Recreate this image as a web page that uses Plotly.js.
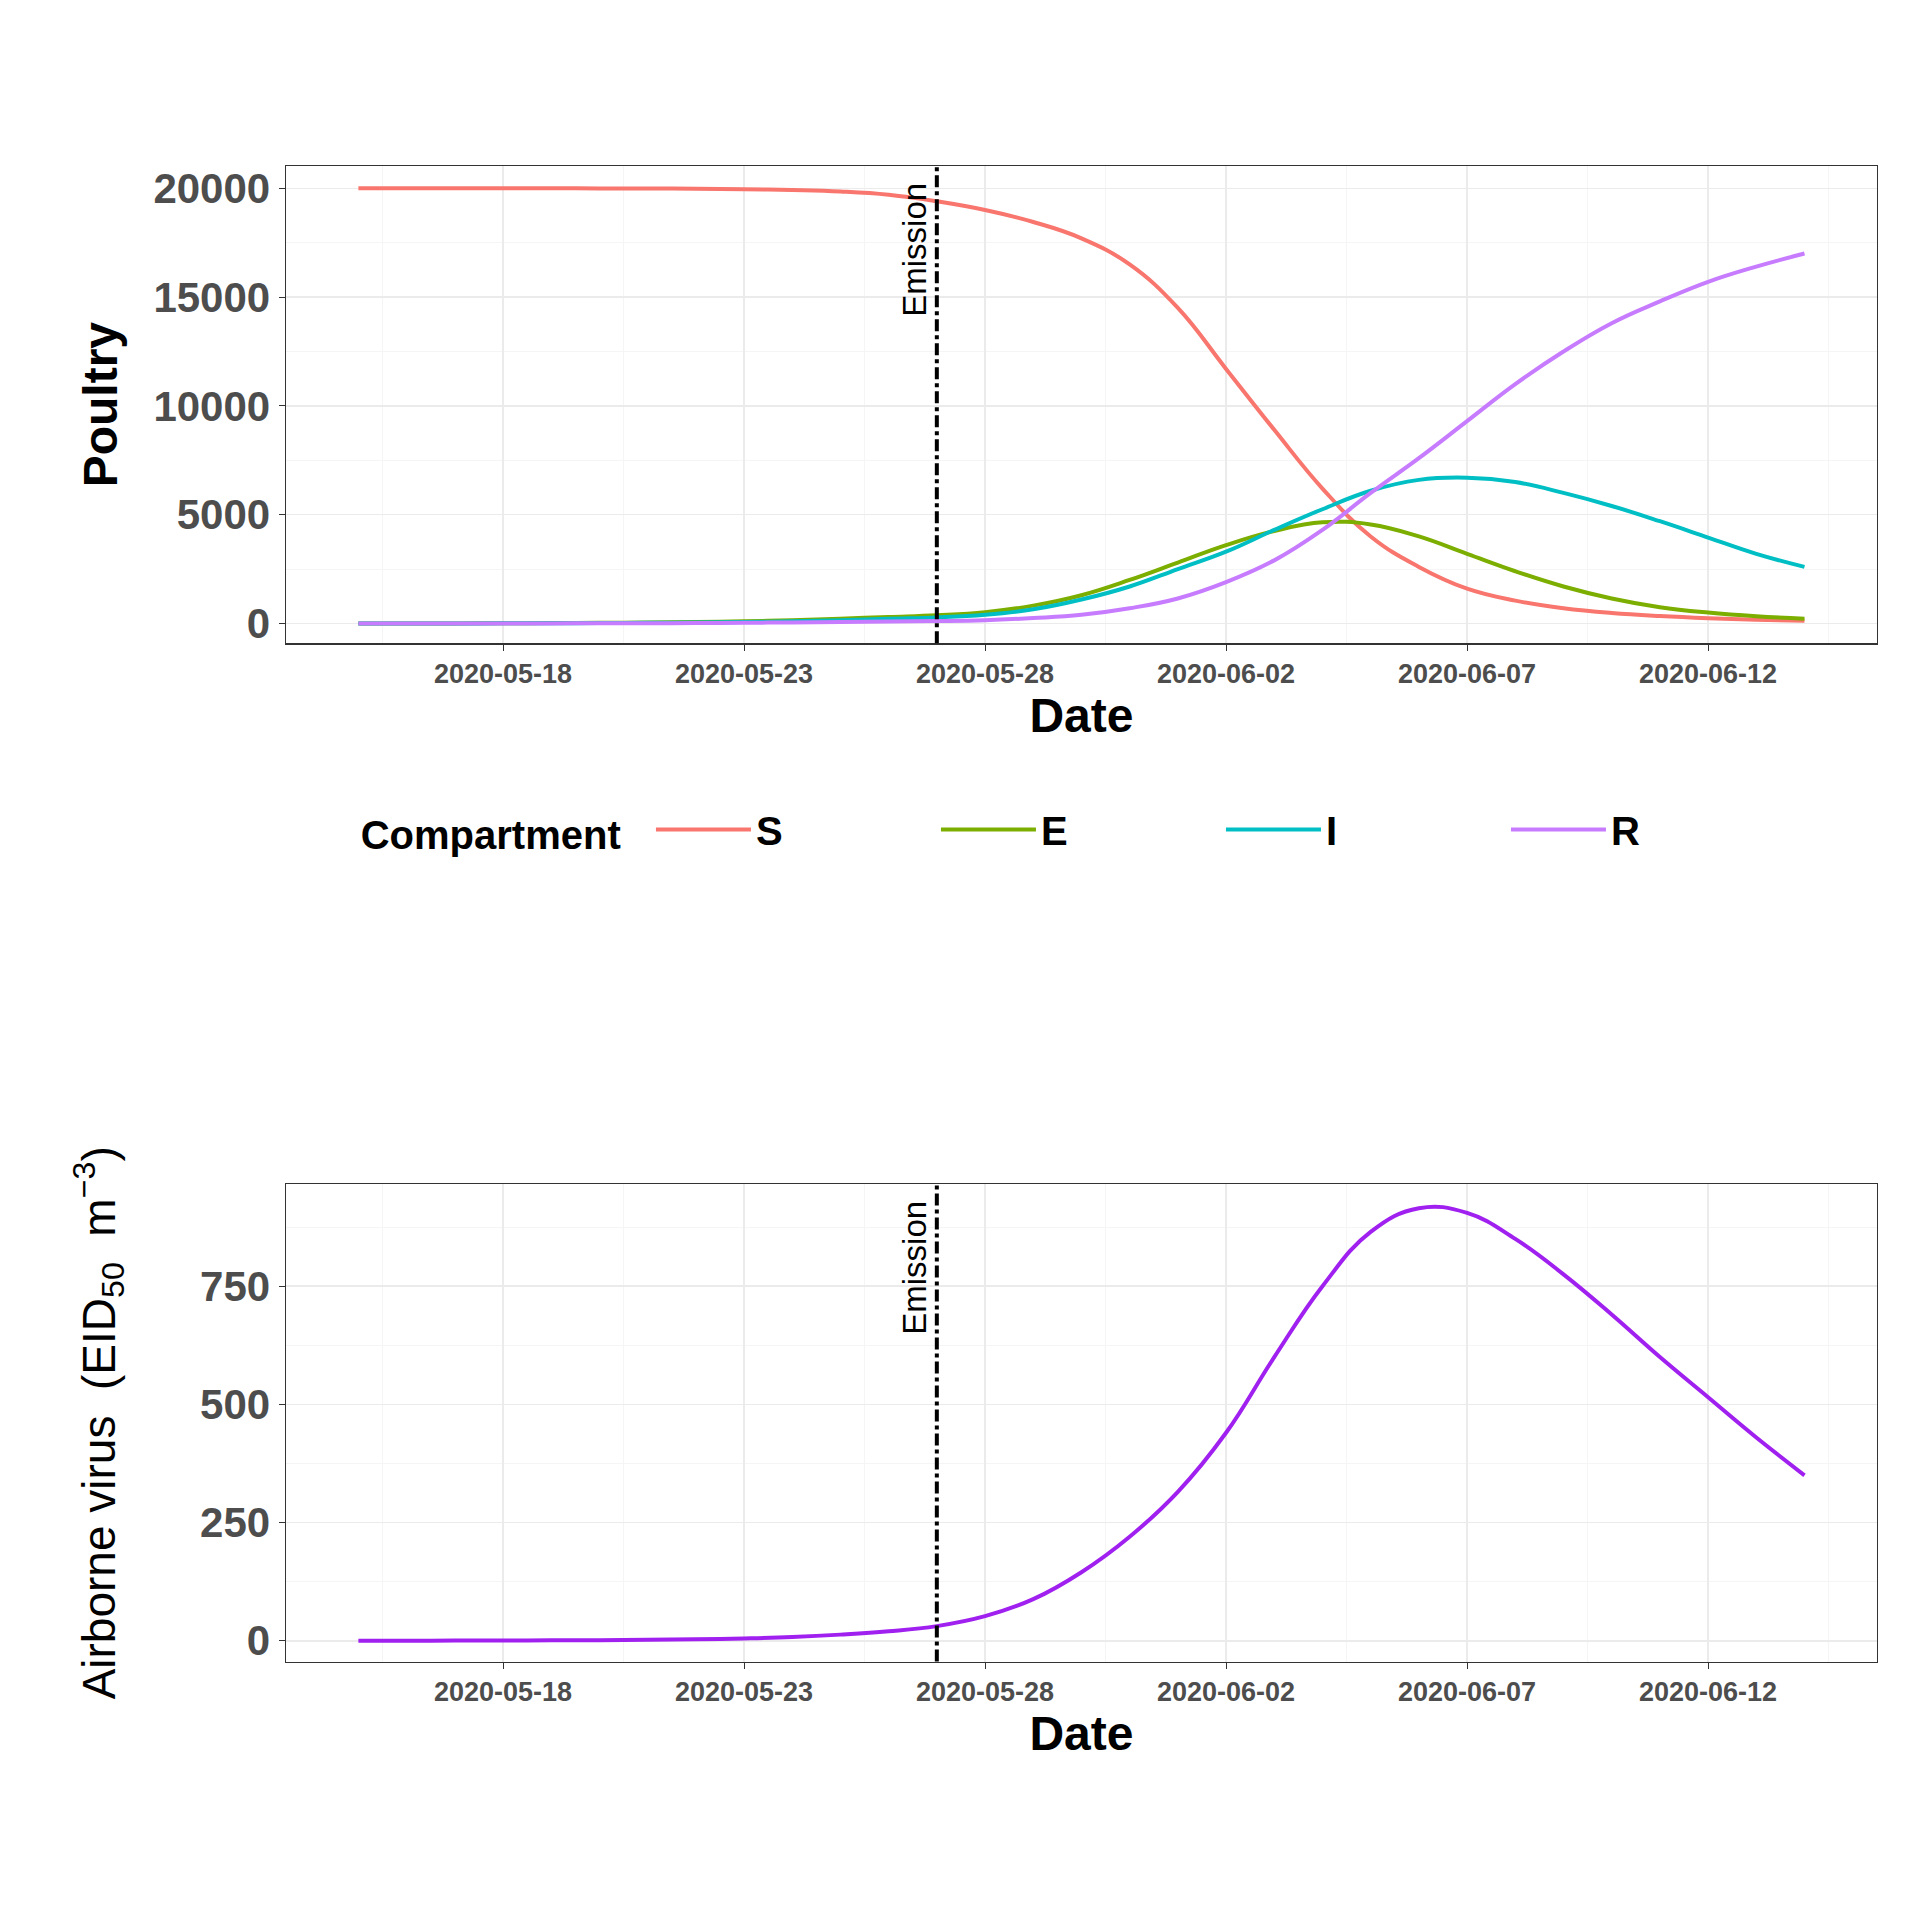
<!DOCTYPE html>
<html>
<head>
<meta charset="utf-8">
<script src="https://cdn.plot.ly/plotly-3.0.1.min.js"></script>
<style>body{margin:0;background:#fff}#chart{width:1920px;height:1920px}</style>
</head>
<body>
<div id="chart"></div>
<script>
var dates = []
for (i = 0; i < 31; i++) {
    var d = new Date(Date.UTC(2020, 4, 15 + i))
    dates.push(d.toISOString().slice(0, 10))
}
// 2020-05-15 .. 2020-06-14
var S = [20000,20000,20000,20000,20000,19995,19990,19980,19960,19920,19850,19700,19400,19000,18450,17700,16500,14500,11700,8900,6200,4000,2600,1600,1050,700,480,340,240,170,120]
var E = [0,2,5,10,18,30,45,70,100,150,220,300,380,520,820,1300,2000,2800,3600,4250,4650,4550,4000,3200,2400,1700,1150,750,500,330,220]
var I = [0,1,3,6,10,18,30,45,70,100,150,220,280,400,650,1100,1700,2500,3300,4300,5250,6100,6600,6700,6500,6000,5400,4700,3950,3200,2600]
var R = [0,0,1,2,4,7,12,20,32,50,70,90,110,150,250,400,700,1150,1900,2900,4300,6000,7600,9300,11000,12500,13800,14800,15700,16400,17000]
var virus = [0,0.1,0.3,0.5,1,1,2,3,5,8,13,20,31,52,88,145,220,315,440,600,750,865,915,905,850,775,690,600,515,430,350]
var series_names = ['S', 'E', 'I', 'R']
var series_colors = ['#F8766D', '#7CAE00', '#00BFC4', '#C77CFF']
var emission_date = '2020-05-27'

var all_series = [S, E, I, R]
var data = []
for (i = 0; i < 4; i++) {
    data.push({x: dates, y: all_series[i], name: series_names[i], type: 'scatter', mode: 'lines',
        line: {color: series_colors[i], width: 4, shape: 'spline', smoothing: 1.2}, xaxis: 'x', yaxis: 'y'})
}
data.push({x: dates, y: virus, type: 'scatter', mode: 'lines', showlegend: false,
    line: {color: '#A020F0', width: 4, shape: 'spline', smoothing: 1.2}, xaxis: 'x2', yaxis: 'y2'})

var day = 86400000
function xax(domain, anchor) {
    return {
        domain: domain, anchor: anchor, type: 'date',
        range: ['2020-05-13 12:00', '2020-06-15 12:00'],
        tick0: '2020-05-18', dtick: 5 * day, tickformat: '%Y-%m-%d',
        tickfont: {family: 'Arial', size: 27, color: '#4d4d4d', weight: 'bold'},
        ticks: 'outside', ticklen: 6, tickcolor: '#333',
        showgrid: true, gridcolor: '#ebebeb', gridwidth: 1.5,
        minor: {dtick: 2.5 * day, tick0: '2020-05-18', showgrid: true, gridcolor: '#f5f5f5', gridwidth: 1},
        showline: true, mirror: true, linecolor: '#333', linewidth: 1.5, zeroline: false,
        title: {text: 'Date', font: {family: 'Arial', size: 48, color: '#000', weight: 'bold'}, standoff: 8}
    }
}
function yax(domain, anchor, range, dtick, title, tfont, standoff) {
    return {
        domain: domain, anchor: anchor, range: range, dtick: dtick, tickformat: 'd',
        tickfont: {family: 'Arial', size: 42, color: '#4d4d4d', weight: 'bold'},
        ticks: 'outside', ticklen: 6, tickcolor: '#333',
        showgrid: true, gridcolor: '#ebebeb', gridwidth: 1.5,
        minor: {dtick: dtick / 2, showgrid: true, gridcolor: '#f5f5f5', gridwidth: 1},
        showline: true, mirror: true, linecolor: '#333', linewidth: 1.5, zeroline: false,
        title: {text: title, font: tfont, standoff: standoff}
    }
}

var layout = {
    width: 1920, height: 1920,
    margin: {l: 0, r: 0, t: 0, b: 0},
    paper_bgcolor: '#fff', plot_bgcolor: '#fff',
    showlegend: true,
    xaxis: xax([0.149, 0.9775], 'y'),
    yaxis: yax([0.665, 0.9135], 'x', [-906, 21020], 5000, 'Poultry',
        {family: 'Arial', size: 48, color: '#000', weight: 'bold'}, 20),
    xaxis2: xax([0.149, 0.9775], 'y2'),
    yaxis2: yax([0.1346, 0.3833], 'x2', [-44, 966], 250, 'Airborne virus  (EID<sub>50</sub>  m<sup>\u22123</sup>)',
        {family: 'Arial', size: 46, color: '#000'}, 70),
    legend: {
        orientation: 'h', x: 0.56, xanchor: 'center', y: 0.568, yanchor: 'middle',
        title: {text: 'Compartment  ', font: {family: 'Arial', size: 40, color: '#000', weight: 'bold'}},
        font: {family: 'Arial', size: 40, color: '#000', weight: 'bold'},
        itemwidth: 95, entrywidth: 175, tracegroupgap: 0
    },
    shapes: [
        {type: 'line', xref: 'x', yref: 'y domain', x0: emission_date, x1: emission_date, y0: 0, y1: 1,
            line: {color: '#000', width: 4, dash: 'dashdot'}},
        {type: 'line', xref: 'x2', yref: 'y2 domain', x0: emission_date, x1: emission_date, y0: 0, y1: 1,
            line: {color: '#000', width: 4, dash: 'dashdot'}}
    ],
    annotations: [
        {xref: 'x', yref: 'y domain', x: emission_date, y: 0.97, xanchor: 'right', yanchor: 'top',
            text: 'Emission', textangle: -90, showarrow: false, xshift: -2,
            font: {family: 'Arial', size: 33, color: '#000'}},
        {xref: 'x2', yref: 'y2 domain', x: emission_date, y: 0.97, xanchor: 'right', yanchor: 'top',
            text: 'Emission', textangle: -90, showarrow: false, xshift: -2,
            font: {family: 'Arial', size: 33, color: '#000'}}
    ]
}

Plotly.newPlot('chart', data, layout, {displayModeBar: false, staticPlot: true})
</script>
</body>
</html>
